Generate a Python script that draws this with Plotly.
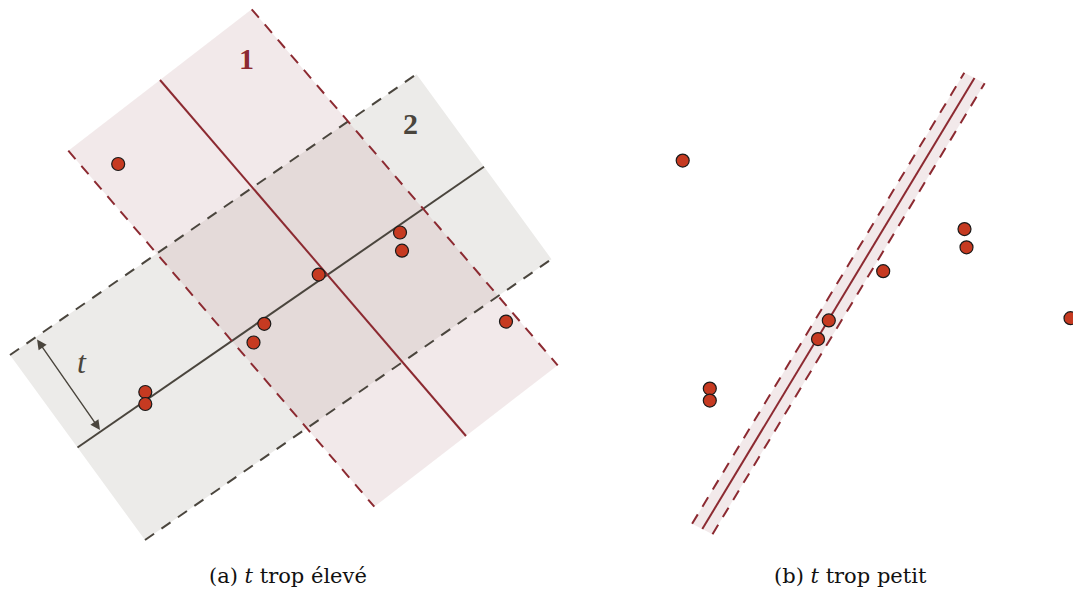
import numpy as np
import plotly.graph_objects as go

# ---- data (pixel space of the figure) ----
# sample points, panel (a)
pts_x = [118.2, 400.0, 402.0, 318.7, 264.3, 253.5, 145.3, 145.3, 506.0]
pts_y = [164.0, 232.5, 250.7, 274.6, 323.8, 342.5, 392.0, 404.0, 321.6]
# same points in panel (b) are shifted
panel_b_shift = (564.5, -3.4)

# bands: centre line start, centre line end, half-width vector
band_gray = dict(p0=(77.5, 447.5), p1=(484.0, 166.7), h=(67.5, 92.5))
band_red = dict(p0=(160.0, 80.0), p1=(466.0, 436.0), h=(91.7, -70.7))
band_thin = dict(p0=(702.3, 529.0), p1=(974.5, 78.0), h=(10.2, 5.2))

labels = ["1", "2"]
captions = ["(a) <i>t</i> trop élevé", "(b) <i>t</i> trop petit"]

RED = "#8c2a31"
GRAY = "#4a453d"
PT = "#c63a21"
FILL_GRAY = "rgb(236,235,233)"
FILL_RED = "rgba(203,167,171,0.25)"
DASH = "11px,9px"
SERIF = "Liberation Serif, DejaVu Serif, serif"
CAP_FONT = "DejaVu Serif, serif"

fig = go.Figure()


def corners(b):
    p0, p1, h = np.array(b["p0"]), np.array(b["p1"]), np.array(b["h"])
    return p0 - h, p1 - h, p1 + h, p0 + h, p0, p1


def add_band_fill(b, fill):
    a, bb, c, d, _, _ = corners(b)
    xs = [a[0], bb[0], c[0], d[0], a[0]]
    ys = [a[1], bb[1], c[1], d[1], a[1]]
    fig.add_trace(go.Scatter(x=xs, y=ys, fill="toself", fillcolor=fill,
                             mode="lines", line=dict(width=0),
                             hoverinfo="skip", showlegend=False))


def add_band_lines(b, color):
    a, bb, c, d, p0, p1 = corners(b)
    for s, e in [(a, bb), (d, c)]:
        fig.add_trace(go.Scatter(x=[s[0], e[0]], y=[s[1], e[1]], mode="lines",
                                 line=dict(color=color, width=2, dash=DASH),
                                 hoverinfo="skip", showlegend=False))
    fig.add_trace(go.Scatter(x=[p0[0], p1[0]], y=[p0[1], p1[1]], mode="lines",
                             line=dict(color=color, width=2),
                             hoverinfo="skip", showlegend=False))


add_band_fill(band_gray, FILL_GRAY)
add_band_fill(band_red, FILL_RED)
add_band_fill(band_thin, FILL_RED)
add_band_lines(band_gray, GRAY)
add_band_lines(band_red, RED)
add_band_lines(band_thin, RED)

bx = [x + panel_b_shift[0] for x in pts_x]
by = [y + panel_b_shift[1] for y in pts_y]
for xs, ys in [(pts_x, pts_y), (bx, by)]:
    fig.add_trace(go.Scatter(x=xs, y=ys, mode="markers", cliponaxis=False,
                             marker=dict(size=13, color=PT,
                                         line=dict(color="#1a1a1a", width=1.2)),
                             hoverinfo="skip", showlegend=False))

# distance arrow "t"
fig.add_annotation(x=100, y=430, ax=36, ay=338, xref="x", yref="y",
                   axref="x", ayref="y", text="", showarrow=True,
                   arrowside="end+start", arrowhead=2, startarrowhead=2,
                   arrowsize=1.4, startarrowsize=1.4, arrowwidth=1.4,
                   arrowcolor=GRAY, standoff=0, startstandoff=0)
fig.add_annotation(x=82, y=362, text="<i>t</i>", showarrow=False,
                   font=dict(family=SERIF, size=32, color=GRAY))

fig.add_annotation(x=246.7, y=58.3, text="<b>%s</b>" % labels[0], showarrow=False,
                   font=dict(family=SERIF, size=30, color=RED))
fig.add_annotation(x=410.7, y=123.3, text="<b>%s</b>" % labels[1], showarrow=False,
                   font=dict(family=SERIF, size=30, color=GRAY))

fig.add_annotation(x=288, y=576, text=captions[0], showarrow=False,
                   font=dict(family=CAP_FONT, size=21, color="#111111"))
fig.add_annotation(x=850, y=576, text=captions[1], showarrow=False,
                   font=dict(family=CAP_FONT, size=21, color="#111111"))

fig.update_layout(
    width=1073, height=592,
    margin=dict(l=0, r=0, t=0, b=0),
    paper_bgcolor="white", plot_bgcolor="white",
    xaxis=dict(range=[0, 1073], visible=False, fixedrange=True),
    yaxis=dict(range=[592, 0], visible=False, fixedrange=True),
    showlegend=False,
)

fig.write_html("out.html", config={"displayModeBar": False},
               post_script="document.body.style.margin='0';")
